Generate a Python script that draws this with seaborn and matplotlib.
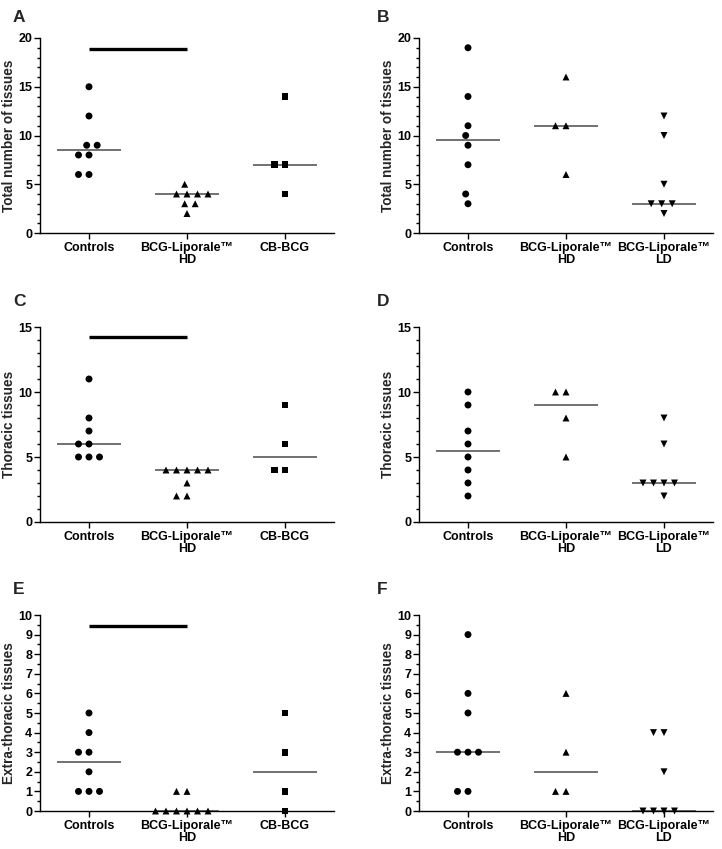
import numpy as np
import pandas as pd
import matplotlib
matplotlib.use("Agg")
import matplotlib.pyplot as plt
import seaborn as sns
from matplotlib.ticker import MultipleLocator

sns.set_theme(style="ticks")
plt.rcParams['font.family'] = ['Liberation Sans', 'DejaVu Sans']
plt.rcParams['font.weight'] = 'bold'
plt.rcParams['axes.linewidth'] = 1.0

TM = "BCG-Liporale\u2122"
groups_left = ["Controls", TM + "\nHD", "CB-BCG"]
groups_right = ["Controls", TM + "\nHD", TM + "\nLD"]
markers_left = ["o", "^", "s"]
markers_right = ["o", "^", "v"]

a_controls = [15, 12, 9, 9, 8, 8, 6, 6]
a_hd = [5, 4, 4, 4, 4, 3, 3, 2]
a_cb = [14, 7, 7, 4]
b_controls = [19, 14, 11, 10, 9, 7, 4, 3]
b_hd = [16, 11, 11, 6]
b_ld = [12, 10, 5, 3, 3, 3, 2]
c_controls = [11, 8, 7, 6, 6, 5, 5, 5]
c_hd = [4, 4, 4, 4, 4, 3, 2, 2]
c_cb = [9, 6, 4, 4]
d_controls = [10, 9, 7, 6, 5, 4, 3, 2]
d_hd = [10, 10, 8, 5]
d_ld = [8, 6, 3, 3, 3, 3, 2]
e_controls = [5, 4, 3, 3, 2, 1, 1, 1]
e_hd = [1, 1, 0, 0, 0, 0, 0, 0]
e_cb = [5, 3, 1, 0]
f_controls = [9, 6, 5, 3, 3, 3, 1, 1]
f_hd = [6, 3, 1, 1]
f_ld = [4, 4, 2, 0, 0, 0, 0]

ylabels = ["Total number of tissues", "Thoracic tissues", "Extra-thoracic tissues"]

panels = [
    dict(letter="A", data=[a_controls, a_hd, a_cb], cats=groups_left, mk=markers_left,
         ylabel=ylabels[0], ymax=20, major=5, minor=1, bar=18.9),
    dict(letter="B", data=[b_controls, b_hd, b_ld], cats=groups_right, mk=markers_right,
         ylabel=ylabels[0], ymax=20, major=5, minor=1, bar=None),
    dict(letter="C", data=[c_controls, c_hd, c_cb], cats=groups_left, mk=markers_left,
         ylabel=ylabels[1], ymax=15, major=5, minor=1, bar=14.2),
    dict(letter="D", data=[d_controls, d_hd, d_ld], cats=groups_right, mk=markers_right,
         ylabel=ylabels[1], ymax=15, major=5, minor=1, bar=None),
    dict(letter="E", data=[e_controls, e_hd, e_cb], cats=groups_left, mk=markers_left,
         ylabel=ylabels[2], ymax=10, major=1, minor=0.5, bar=9.45),
    dict(letter="F", data=[f_controls, f_hd, f_ld], cats=groups_right, mk=markers_right,
         ylabel=ylabels[2], ymax=10, major=1, minor=0.5, bar=None),
]

W, H = 722, 849
fig = plt.figure(figsize=(W / 100, H / 100), dpi=100)

lefts = [40, 419]
axw = 294
rows = [(38, 233), (327, 522), (615, 811)]

for idx, p in enumerate(panels):
    r, c = divmod(idx, 2)
    top, bot = rows[r]
    x0 = lefts[c]
    ax = fig.add_axes([x0 / W, 1 - bot / H, axw / W, (bot - top) / H])

    frames = []
    for cat, vals in zip(p["cats"], p["data"]):
        frames.append(pd.DataFrame({"group": cat, "value": vals}))
    df = pd.concat(frames, ignore_index=True)

    for i, (cat, m) in enumerate(zip(p["cats"], p["mk"])):
        sub = df[df["group"] == cat]
        sns.swarmplot(data=sub, x="group", y="value", order=p["cats"], ax=ax,
                      marker=m, color="black", size=5.0, linewidth=2.2,
                      edgecolor="none", zorder=3)
        med = np.median(sub["value"])
        ax.hlines(med, i - 0.33, i + 0.33, color="#666666", lw=1.3, zorder=2)

    for coll in ax.collections:
        offs = coll.get_offsets()
        if len(offs) > 0 and np.all(np.isfinite(np.asarray(offs, dtype=float))):
            coll.set_clip_on(False)

    if p["bar"] is not None:
        ax.hlines(p["bar"], 0, 1, color="black", lw=2.4, zorder=2)

    ax.set_xlim(-0.5, 2.5)
    ax.set_ylim(0, p["ymax"])
    ax.yaxis.set_major_locator(MultipleLocator(p["major"]))
    ax.yaxis.set_minor_locator(MultipleLocator(p["minor"]))
    ax.set_xticks(range(3))
    ax.set_xticklabels(p["cats"], fontsize=9, fontweight="bold")
    for lab in ax.get_xticklabels():
        lab.set_linespacing(1.0)
    ax.tick_params(axis="y", which="major", length=4, width=1, labelsize=9, pad=1.5)
    ax.tick_params(axis="y", which="minor", length=2, width=1)
    ax.tick_params(axis="x", which="major", length=4, width=1, labelsize=9, pad=2.5)
    for lab in ax.get_yticklabels():
        lab.set_fontweight("bold")
    ax.set_xlabel("")
    ax.set_ylabel(p["ylabel"], fontsize=9.8, fontweight="bold")
    ax.yaxis.label.set_va("center")
    ax.yaxis.set_label_coords(-0.106, 0.5)
    sns.despine(ax=ax)
    ax.spines["left"].set_color("black")
    ax.spines["bottom"].set_color("black")
    ax.tick_params(colors="black", which="both")

    lx = (13 if c == 0 else 377) / W
    ly = 1 - ([17, 302, 590][r]) / H
    fig.text(lx, ly, p["letter"], fontsize=12.5, fontweight="bold", va="center", ha="left")

fig.savefig("out.png", dpi=100, facecolor="white")
